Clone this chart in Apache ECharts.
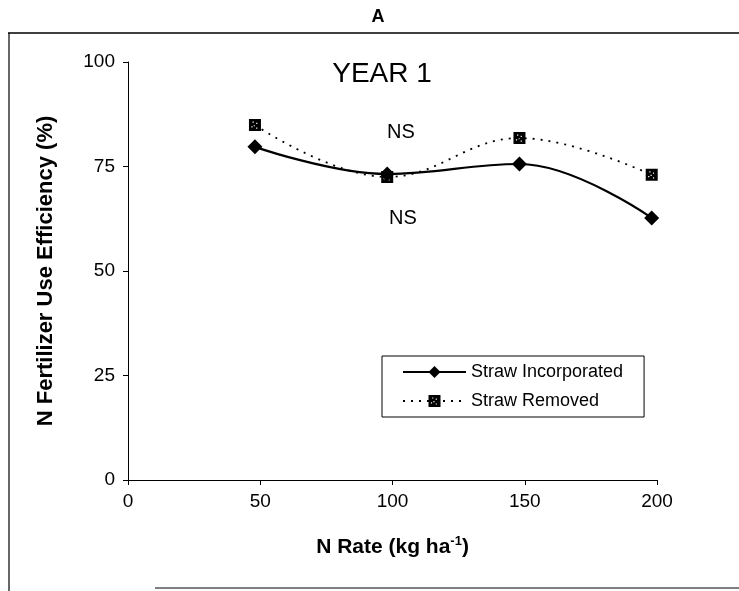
<!DOCTYPE html>
<html><head><meta charset="utf-8">
<script src="https://cdn.jsdelivr.net/npm/echarts@6/dist/echarts.min.js"></script>
<style>html,body{margin:0;padding:0;background:#fff}#c{width:739px;height:591px}</style>
</head><body><div id="c"></div>
<script>
const nRates = [48, 98, 148, 198];
const strawIncorporated = [79.7, 73.2, 75.6, 62.7];
const strawRemoved = [84.9, 72.5, 81.8, 73.0];
const seriesNames = ['Straw Incorporated', 'Straw Removed'];
const panelTitle = 'A';
const yearLabel = 'YEAR 1';
const nsLabels = ['NS', 'NS'];
const xAxisTitle = 'N Rate (kg ha';
const yAxisTitle = 'N Fertilizer Use Efficiency (%)';

const FONT = '"Liberation Sans", Arial, sans-serif';
const squareDots = 'path://M0,0L10,0L10,10L0,10Z M4,2L3,2L3,3L4,3Z M7,3L6,3L6,4L7,4Z M5,5L4,5L4,6L5,6Z M3,6L2,6L2,7L3,7Z M7,7L6,7L6,8L7,8Z';

const chart = echarts.init(document.getElementById('c'), null, {renderer: 'canvas'});
chart.setOption({
  animation: false,
  backgroundColor: '#fff',
  textStyle: {fontFamily: FONT, color: '#000'},
  grid: {left: 128, right: 82, top: 62, bottom: 111, containLabel: false},
  xAxis: {
    type: 'value', min: 0, max: 200, interval: 50,
    axisLine: {show: true, onZero: false, lineStyle: {color: '#000', width: 1}},
    axisTick: {show: true, length: 5, lineStyle: {color: '#000'}},
    axisLabel: {color: '#000', fontSize: 19, margin: 12, fontFamily: FONT},
    splitLine: {show: false},
    name: '{t|' + xAxisTitle + '}{s|-1}{t|)}',
    nameLocation: 'middle', nameGap: 55,
    nameTextStyle: {
      rich: {
        t: {fontSize: 21, fontWeight: 'bold', color: '#000', fontFamily: FONT},
        s: {fontSize: 13, fontWeight: 'bold', color: '#000', fontFamily: FONT, verticalAlign: 'top', padding: [0, 0, 11, 0]}
      }
    }
  },
  yAxis: {
    type: 'value', min: 0, max: 100, interval: 25,
    axisLine: {show: true, lineStyle: {color: '#000', width: 1}},
    axisTick: {show: true, length: 5, lineStyle: {color: '#000'}},
    axisLabel: {color: '#000', fontSize: 19, margin: 13, fontFamily: FONT},
    splitLine: {show: false},
    name: yAxisTitle,
    nameLocation: 'middle', nameGap: 71,
    nameTextStyle: {fontSize: 22, fontWeight: 'bold', color: '#000', fontFamily: FONT}
  },
  legend: {
    orient: 'vertical', left: 382, top: 356,
    borderColor: '#000', borderWidth: 1, padding: [7, 21, 7, 20],
    itemGap: 11, itemWidth: 63, itemHeight: 15,
    textStyle: {fontSize: 18, color: '#000', fontFamily: FONT},
    data: seriesNames
  },
  series: [
    {
      name: seriesNames[0], type: 'line', data: nRates.map((x, i) => [x, strawIncorporated[i]]),
      smooth: 0.4, symbol: 'diamond', symbolSize: 15,
      lineStyle: {color: '#000', width: 2.2, type: 'solid'},
      itemStyle: {color: '#000'}, z: 2
    },
    {
      name: seriesNames[1], type: 'line', data: nRates.map((x, i) => [x, strawRemoved[i]]),
      smooth: 0.4, symbol: squareDots, symbolSize: 12,
      lineStyle: {color: '#000', width: 1.8, type: [2, 6]},
      itemStyle: {color: '#000'}, z: 3
    }
  ],
  graphic: [
    {type: 'text', style: {text: panelTitle, x: 378, y: 17, font: 'bold 18px ' + FONT, textAlign: 'center', textVerticalAlign: 'middle', fill: '#000'}},
    {type: 'line', shape: {x1: 8, y1: 33, x2: 739, y2: 33}, style: {stroke: '#000', lineWidth: 1.5}},
    {type: 'line', shape: {x1: 9, y1: 33, x2: 9, y2: 591}, style: {stroke: '#000', lineWidth: 1.2}},
    {type: 'line', shape: {x1: 155, y1: 588, x2: 739, y2: 588}, style: {stroke: '#000', lineWidth: 1.2}},
    {type: 'text', style: {text: yearLabel, x: 382, y: 74, font: '28px ' + FONT, textAlign: 'center', textVerticalAlign: 'middle', fill: '#000'}},
    {type: 'text', style: {text: nsLabels[0], x: 401, y: 132, font: '20px ' + FONT, textAlign: 'center', textVerticalAlign: 'middle', fill: '#000'}},
    {type: 'text', style: {text: nsLabels[1], x: 403, y: 218, font: '20px ' + FONT, textAlign: 'center', textVerticalAlign: 'middle', fill: '#000'}}
  ]
});
</script></body></html>
